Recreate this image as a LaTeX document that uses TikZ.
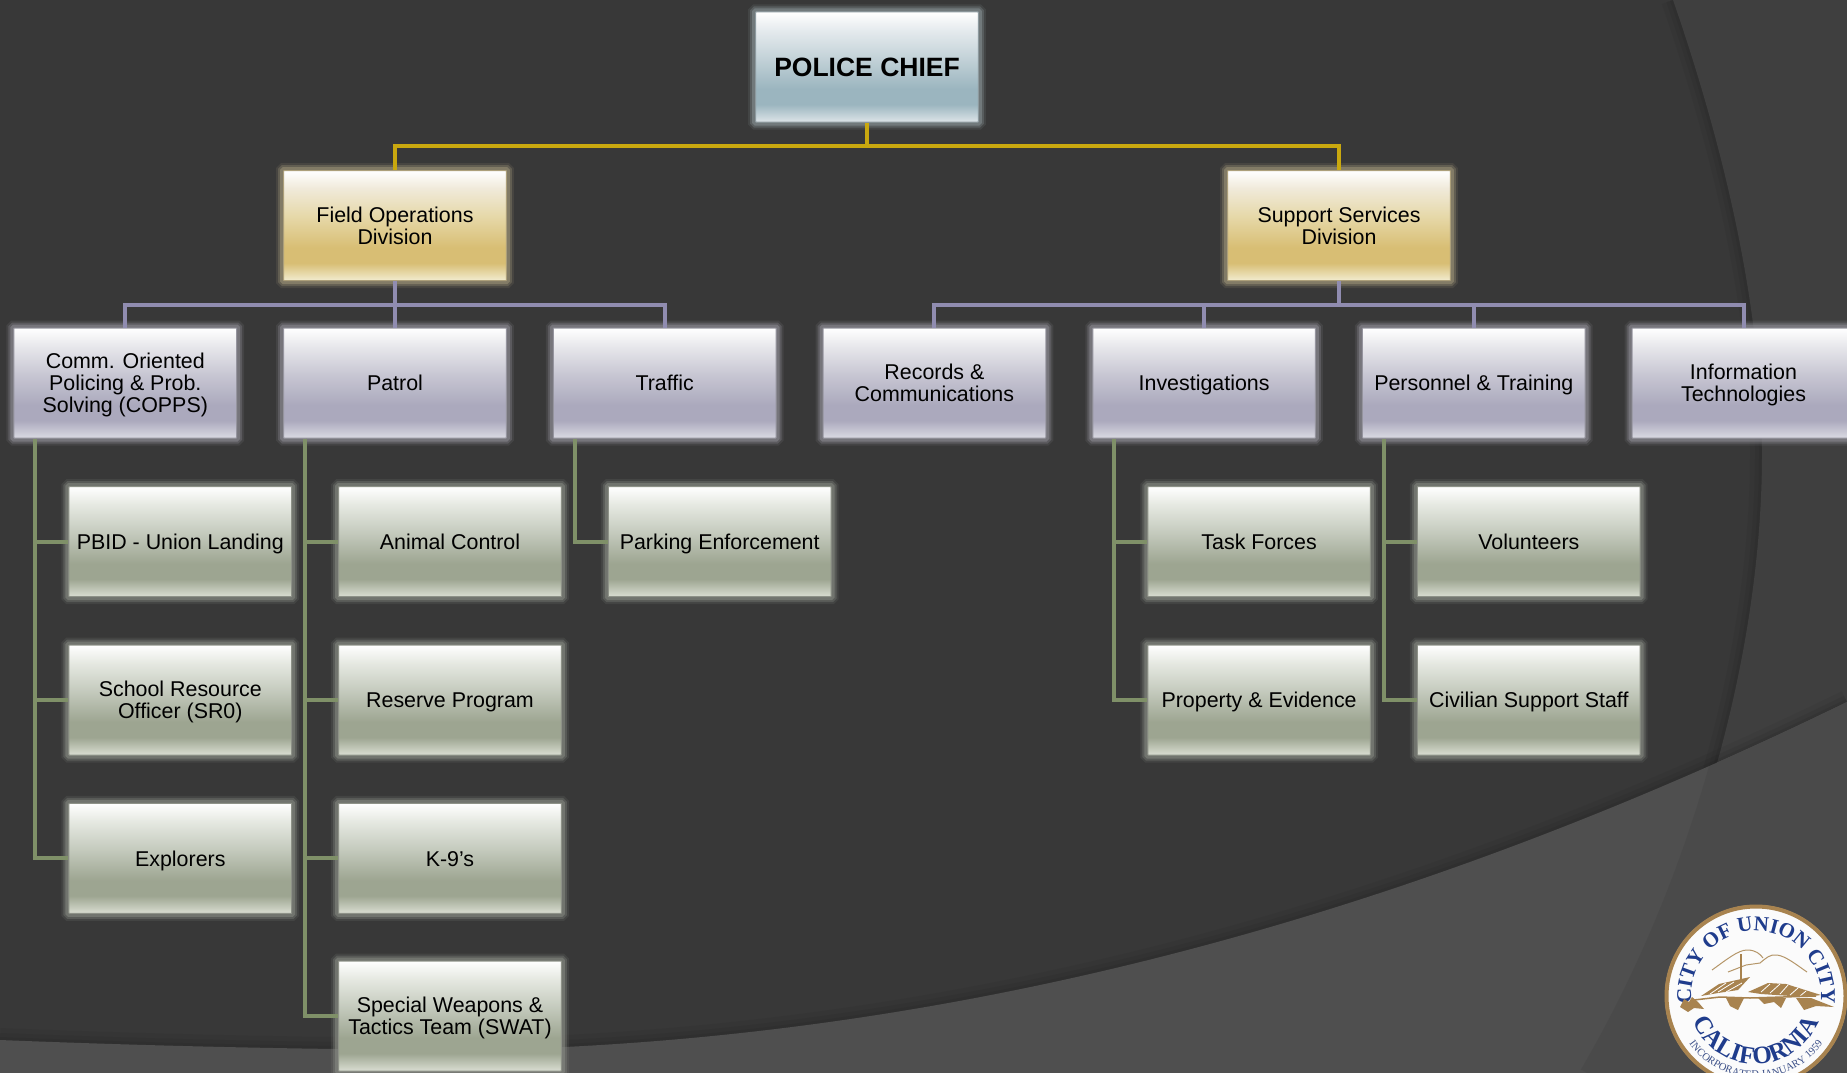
\documentclass[tikz,border=0pt]{standalone}
\usepackage{fontspec}
\setmainfont{Liberation Sans}
\newfontfamily\sealfont{Liberation Serif}
\usepackage{tikz}
\usetikzlibrary{decorations.text}

\definecolor{ground}{HTML}{383838}
\definecolor{groundright}{HTML}{3F3F3F}
\definecolor{groundlow}{HTML}{4F4F4F}
\definecolor{groundlowright}{HTML}{4A4A4A}
\definecolor{goldline}{HTML}{C9A80F}
\definecolor{purpleline}{HTML}{908CB0}
\definecolor{greenline}{HTML}{7F9068}
\definecolor{sealtan}{HTML}{A8834F}
\definecolor{sealblue}{HTML}{1F3C8C}
\definecolor{chiefmid}{HTML}{9BB5BF}
\definecolor{chieflight}{HTML}{C3D2D8}
\definecolor{chieftop}{HTML}{E6EBEE}
\definecolor{chieflow}{HTML}{DDE4E8}
\definecolor{goldmid}{HTML}{D8BE74}
\definecolor{goldlight}{HTML}{E6D8A8}
\definecolor{goldtop}{HTML}{F0EADA}
\definecolor{goldlow}{HTML}{F2ECD0}
\definecolor{purplemid}{HTML}{ABA9BD}
\definecolor{purplelight}{HTML}{C8C7D3}
\definecolor{purpletop}{HTML}{E8E8EC}
\definecolor{purplelow}{HTML}{DADAE2}
\definecolor{greenmid}{HTML}{9DA591}
\definecolor{greenlight}{HTML}{C4CABD}
\definecolor{greentop}{HTML}{E6E9E2}
\definecolor{greenlow}{HTML}{DADED2}

\pgfdeclareverticalshading{chiefshading}{100bp}{color(0bp)=(chieflow); color(25bp)=(chieflow); color(33bp)=(chiefmid); color(40bp)=(chiefmid); color(54bp)=(chieflight); color(67bp)=(chieftop); color(75bp)=(white); color(100bp)=(white)}
\pgfdeclareverticalshading{goldshading}{100bp}{color(0bp)=(goldlow); color(25bp)=(goldlow); color(33bp)=(goldmid); color(40bp)=(goldmid); color(54bp)=(goldlight); color(67bp)=(goldtop); color(75bp)=(white); color(100bp)=(white)}
\pgfdeclareverticalshading{purpleshading}{100bp}{color(0bp)=(purplelow); color(25bp)=(purplelow); color(33bp)=(purplemid); color(40bp)=(purplemid); color(54bp)=(purplelight); color(67bp)=(purpletop); color(75bp)=(white); color(100bp)=(white)}
\pgfdeclareverticalshading{greenshading}{100bp}{color(0bp)=(greenlow); color(25bp)=(greenlow); color(33bp)=(greenmid); color(40bp)=(greenmid); color(54bp)=(greenlight); color(67bp)=(greentop); color(75bp)=(white); color(100bp)=(white)}

\newcommand{\boxstrut}{\vrule width 0pt height .978em depth .262em\relax}

\tikzset{
  boxbase/.style={rectangle, minimum width=222.7pt, minimum height=110pt, inner sep=0pt, align=center,
    font=\fontsize{21.4}{22}\selectfont, text=black, draw=#1!50!gray, line width=1pt, rounded corners=0.5pt,
    execute at begin node=\boxstrut, execute at end node=\boxstrut,
    preaction={draw=#1!40!gray, line width=15pt, opacity=.14, rounded corners=4pt},
    preaction={draw=#1!40!gray, line width=11pt, opacity=.3, rounded corners=3pt},
    preaction={draw=#1!40!gray, line width=7pt, opacity=.5, rounded corners=2pt}},
  chiefbox/.style={boxbase=chiefmid, shade, shading=chiefshading, font=\fontsize{26.5}{28}\selectfont\bfseries},
  goldbox/.style={boxbase=goldmid, shade, shading=goldshading},
  purplebox/.style={boxbase=purplemid, shade, shading=purpleshading},
  greenbox/.style={boxbase=greenmid, shade, shading=greenshading},
  goldconn/.style={draw=goldline, line width=4pt},
  purpleconn/.style={draw=purpleline, line width=4pt},
  greenconn/.style={draw=greenline, line width=4pt}
}

\def\rightarc{(1673,0) .. controls (1725,150) and (1762,310) .. (1762,453) .. controls (1762,650) and (1700,870) .. (1600,1050) -- (1587,1073)}
\def\lowcurve{(0,1040) .. controls (150,1046) and (320,1050) .. (480,1050) .. controls (950,1040) and (1400,920) .. (1847,702)}

\begin{document}
\begin{tikzpicture}[x=1pt,y=-1pt]
\clip (0,0) rectangle (1847,1073);
\fill[ground] (0,0) rectangle (1847,1073);
\draw[black, line width=24pt, opacity=.04] \rightarc;
\draw[black, line width=14pt, opacity=.05] \rightarc;
\draw[black, line width=6pt, opacity=.06] \rightarc;
\fill[groundright] \rightarc -- (1847,1073) -- (1847,0) -- cycle;
\draw[black, line width=24pt, opacity=.04] \lowcurve;
\draw[black, line width=14pt, opacity=.05] \lowcurve;
\draw[black, line width=6pt, opacity=.06] \lowcurve;
\fill[groundlow] \lowcurve -- (1847,1073) -- (0,1073) -- cycle;
\begin{scope}
\clip \lowcurve -- (1847,1073) -- (0,1073) -- cycle;
\draw[black, line width=14pt, opacity=.05] \rightarc;
\fill[groundlowright] \rightarc -- (1847,1073) -- (1847,0) -- cycle;
\end{scope}

\node[chiefbox] (chief) at (867,67) {POLICE CHIEF};
\node[goldbox] (field) at (395,225.6) {\boxstrut Field Operations\\Division};
\node[goldbox] (support) at (1339,225.6) {\boxstrut Support Services\\Division};

\node[purplebox] (copps) at (125.3,383) {\boxstrut Comm. Oriented\\Policing \& Prob.\\Solving (COPPS)};
\node[purplebox] (patrol) at (395,383) {Patrol};
\node[purplebox] (traffic) at (664.7,383) {Traffic};
\node[purplebox] (records) at (934.4,383) {\boxstrut Records \&\\Communications};
\node[purplebox] (investigations) at (1204.1,383) {Investigations};
\node[purplebox] (personnel) at (1473.8,383) {Personnel \& Training};
\node[purplebox] (infotech) at (1743.5,383) {\boxstrut Information\\Technologies};

\node[greenbox] (pbid) at (180.3,541.7) {PBID - Union Landing};
\node[greenbox] (school) at (180.3,700) {\boxstrut School Resource\\Officer (SR0)};
\node[greenbox] (explorers) at (180.3,858.4) {Explorers};
\node[greenbox] (animal) at (450,541.7) {Animal Control};
\node[greenbox] (reserve) at (450,700) {Reserve Program};
\node[greenbox] (k9) at (450,858.4) {K-9's};
\node[greenbox] (swat) at (450,1016) {\boxstrut Special Weapons \&\\Tactics Team (SWAT)};
\node[greenbox] (parking) at (719.7,541.7) {Parking Enforcement};
\node[greenbox] (task) at (1259.1,541.7) {Task Forces};
\node[greenbox] (property) at (1259.1,700) {Property \& Evidence};
\node[greenbox] (volunteers) at (1528.8,541.7) {Volunteers};
\node[greenbox] (civilian) at (1528.8,700) {Civilian Support Staff};

\coordinate (chiefbus) at (867,146);
\coordinate (fieldbus) at (395,304.5);
\coordinate (supportbus) at (1339,304.5);

\draw[goldconn] (chief.south) -- (chiefbus);
\draw[goldconn] (chiefbus) -| (field.north);
\draw[goldconn] (chiefbus) -| (support.north);

\draw[purpleconn] (field.south) -- (fieldbus);
\draw[purpleconn] (fieldbus) -| (copps.north);
\draw[purpleconn] (fieldbus) -- (patrol.north);
\draw[purpleconn] (fieldbus) -| (traffic.north);
\draw[purpleconn] (support.south) -- (supportbus);
\draw[purpleconn] (supportbus) -| (records.north);
\draw[purpleconn] (supportbus) -| (investigations.north);
\draw[purpleconn] (supportbus) -| (personnel.north);
\draw[purpleconn] (supportbus) -| (infotech.north);

\draw[greenconn] ([xshift=22pt]copps.south west) |- (pbid.west);
\draw[greenconn] ([xshift=22pt]copps.south west) |- (school.west);
\draw[greenconn] ([xshift=22pt]copps.south west) |- (explorers.west);
\draw[greenconn] ([xshift=22pt]patrol.south west) |- (animal.west);
\draw[greenconn] ([xshift=22pt]patrol.south west) |- (reserve.west);
\draw[greenconn] ([xshift=22pt]patrol.south west) |- (k9.west);
\draw[greenconn] ([xshift=22pt]patrol.south west) |- (swat.west);
\draw[greenconn] ([xshift=22pt]traffic.south west) |- (parking.west);
\draw[greenconn] ([xshift=22pt]investigations.south west) |- (task.west);
\draw[greenconn] ([xshift=22pt]investigations.south west) |- (property.west);
\draw[greenconn] ([xshift=22pt]personnel.south west) |- (volunteers.west);
\draw[greenconn] ([xshift=22pt]personnel.south west) |- (civilian.west);

\begin{scope}[shift={(1756,996)},x=1pt,y=1pt]
\fill[white!97!gray] (0,0) circle (91);
\draw[sealtan, line width=4pt] (0,0) circle (89.5);
\path[decorate, decoration={text along path, text align=center, text color=sealblue,
  text={|\sealfont\bfseries\fontsize{21}{21}\selectfont|CITY OF UNION CITY}}] (200:65) arc (200:-20:65);
\path[decorate, decoration={text along path, text align=center, text color=sealblue,
  text={|\sealfont\bfseries\fontsize{25}{25}\selectfont|CALIFORNIA}}] (190:68) arc (190:350:68);
\path[decorate, decoration={text along path, text align=center, text color=sealblue!70!gray,
  text={|\sealfont\fontsize{10.5}{10.5}\selectfont|INCORPORATED JANUARY 1959}}] (195:82) arc (195:345:82);
\draw[sealtan!85!white, line width=1pt] (-44,26) .. controls (-30,36) and (-18,46) .. (-9,46) .. controls (0,46) and (4,42) .. (7,38);
\draw[sealtan!85!white, line width=1pt] (-28,24) -- (-10,31) -- (4,33) .. controls (10,38) and (14,42) .. (21,41) .. controls (30,40) and (42,30) .. (51,24);
\draw[sealtan, line width=1.5pt] (-15,42) -- (-15,16);
\fill[sealtan] (-55,0) -- (-37,12) -- (-6,19) -- (-18,6) -- (-38,3) -- cycle;
\fill[sealtan] (-8,4) -- (12,13) -- (30,12) -- (65,1) -- (50,-1) -- (5,2) -- cycle;
\draw[white, line width=.8pt] (-46,2) -- (-30,13) (-38,4) -- (-22,14) (-30,4) -- (-14,13) (5,4) -- (14,12) (14,3) -- (24,12) (24,2) -- (32,11) (34,1) -- (42,8) (44,0) -- (50,5);
\draw[sealtan, line width=1.5pt] (-62,-4) -- (-36,-1) -- (-6,-2) -- (60,0);
\fill[sealtan] (-30,-2) -- (-12,-2) -- (-18,-14) -- (-26,-10) -- cycle;
\fill[sealtan] (2,-2) -- (30,-2) -- (25,-12) -- (18,-6) -- (8,-8) -- cycle;
\fill[sealtan] (40,-2) -- (55,-2) -- (78,-11) -- (60,-10) -- (48,-14) -- cycle;
\fill[sealtan] (-76,-11) -- (-72,-3) -- (-67,-6) -- (-64,-1) -- (-58,-6) -- (-52,-13) -- (-62,-12) -- (-68,-16) -- cycle;
\end{scope}
\end{tikzpicture}
\end{document}
